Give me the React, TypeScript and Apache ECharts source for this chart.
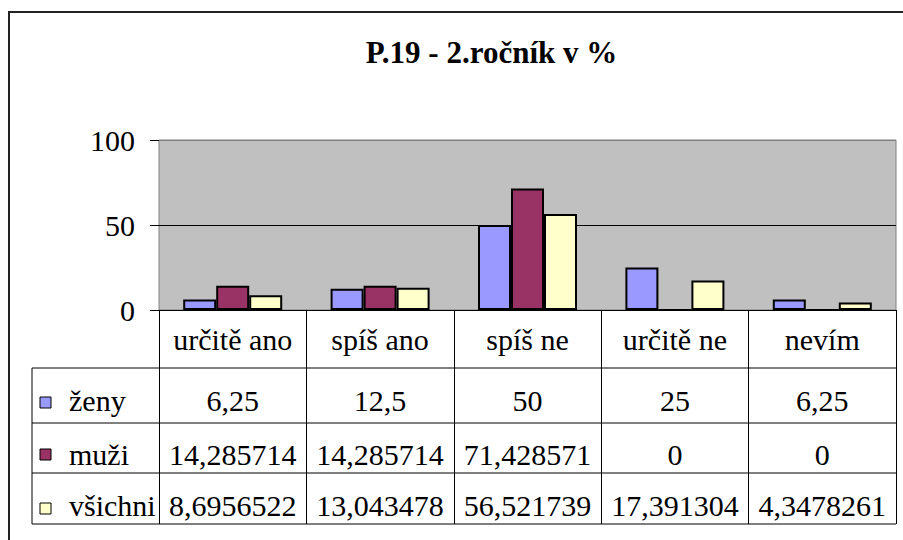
import React, { useEffect, useRef } from "react";
import * as echarts from "echarts";

const title = "P.19 - 2.ročník v %";
const categories = ["určitě ano", "spíš ano", "spíš ne", "určitě ne", "nevím"];
const seriesNames = ["ženy", "muži", "všichni"];
const zeny = [6.25, 12.5, 50, 25, 6.25];
const muzi = [14.285714, 14.285714, 71.428571, 0, 0];
const vsichni = [8.6956522, 13.043478, 56.521739, 17.391304, 4.3478261];
const seriesColors = ["#9999FF", "#993366", "#FFFFCC"];
const yMin = 0;
const yMax = 100;
const yInterval = 50;

const FONT = "Liberation Serif, serif";

const fmt = (v: number) => String(v).replace(".", ",");

export default function App() {
  const ref = useRef<HTMLDivElement>(null);

  useEffect(() => {
    if (!ref.current) return;
    const chart = echarts.init(ref.current, null, { renderer: "svg" });

    const gridLeft = 159;
    const gridTop = 140;
    const gridWidth = 737;
    const gridHeight = 170;
    const gridRight = gridLeft + gridWidth;
    const tableLeft = 32;
    const rowLines = [368, 423, 473, 524];
    const rowOffsets = [61, 115, 166];
    const rowSquareY = [397, 449, 503];
    const rowCenters = [400, 454, 505];

    const data = [zeny, muzi, vsichni];

    const labelStyle = {
      fontSize: 30,
      fontFamily: FONT,
      color: "#000",
      verticalAlign: "middle" as const,
      margin: 29,
      interval: 0,
    };

    const graphics: any[] = [
      {
        type: "rect",
        shape: { x: 9, y: 12, width: 1000, height: 1000 },
        style: { fill: "none", stroke: "#222", lineWidth: 2 },
        silent: true,
      },
      {
        type: "text",
        x: 491.5,
        y: 52,
        style: {
          text: title,
          fontSize: 31,
          fontWeight: "bold",
          fontFamily: FONT,
          fill: "#000",
          align: "center",
          verticalAlign: "middle",
        },
      },
      {
        type: "line",
        shape: { x1: tableLeft, y1: rowLines[0], x2: tableLeft, y2: rowLines[3] },
        style: { stroke: "#000", lineWidth: 1 },
      },
      ...rowLines.map((y) => ({
        type: "line",
        shape: { x1: tableLeft, y1: y, x2: gridRight, y2: y },
        style: { stroke: "#000", lineWidth: 1 },
      })),
      ...seriesNames.map((name, i) => ({
        type: "rect",
        shape: { x: 40, y: rowSquareY[i], width: 11, height: 11 },
        style: { fill: seriesColors[i], stroke: "#000", lineWidth: 1 },
      })),
      ...seriesNames.map((name, i) => ({
        type: "text",
        x: 69,
        y: rowCenters[i],
        style: {
          text: name,
          fontSize: 30,
          fontFamily: FONT,
          fill: "#000",
          align: "left",
          verticalAlign: "middle",
        },
      })),
    ];

    chart.setOption({
      animation: false,
      backgroundColor: "#fff",
      grid: {
        left: gridLeft,
        top: gridTop,
        width: gridWidth,
        height: gridHeight,
        show: true,
        backgroundColor: "#C0C0C0",
        borderColor: "#808080",
        borderWidth: 1,
      },
      xAxis: [
        {
          type: "category",
          data: categories,
          position: "bottom",
          axisLine: { show: true, lineStyle: { color: "#000", width: 1 } },
          axisTick: {
            show: true,
            length: 214,
            interval: 0,
            alignWithLabel: false,
            lineStyle: { color: "#000", width: 1 },
          },
          axisLabel: labelStyle,
          splitLine: { show: false },
        },
        ...data.map((vals, i) => ({
          type: "category",
          data: vals.map(fmt),
          position: "bottom",
          offset: rowOffsets[i],
          axisLine: { show: false },
          axisTick: { show: false },
          axisLabel: labelStyle,
          splitLine: { show: false },
        })),
      ],
      yAxis: {
        type: "value",
        min: yMin,
        max: yMax,
        interval: yInterval,
        axisLine: { show: false },
        axisTick: { show: true, length: 9, lineStyle: { color: "#000" } },
        axisLabel: {
          fontSize: 30,
          fontFamily: FONT,
          color: "#000",
          margin: 24,
        },
        splitLine: {
          show: true,
          lineStyle: { color: ["#808080", "#000", "#808080"], width: 1 },
        },
      },
      series: data.map((vals, i) => ({
        type: "bar",
        name: seriesNames[i],
        xAxisIndex: 0,
        data: vals,
        barWidth: 33,
        barGap: "0%",
        itemStyle: {
          color: seriesColors[i],
          borderColor: "#000",
          borderWidth: 2,
        },
      })),
      graphic: graphics,
    });

    return () => chart.dispose();
  }, []);

  return (
    <div
      ref={ref}
      style={{ position: "fixed", left: 0, top: 0, width: 903, height: 540 }}
    />
  );
}
